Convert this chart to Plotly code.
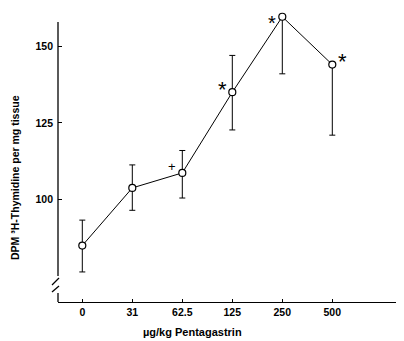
import plotly.graph_objects as go

doses = ["0", "31", "62.5", "125", "250", "500"]
dpm_mean = [85.0, 103.8, 108.7, 135.0, 159.6, 144.0]
err_plus = [8.3, 7.5, 7.3, 12.0, 0.0, 0.0]
err_minus = [8.6, 7.3, 8.2, 12.3, 18.6, 23.0]
y_ticks = [100, 125, 150]
marks = ["", "", "+", "*", "*", "*"]
mark_side = [0, 0, -1, -1, -1, 1]

FONT = "Liberation Sans"
# the page body has an 8px default margin; shift the figure to compensate
OFF = 8
W, H = 404 - OFF, 341 - OFF
L, T, B = 58 - OFF, 9 - OFF, 39
PW, PH = W - L, H - T - B   # plot area spans page y 9..302
PX_PER_UNIT = 3.067
Y_BOTTOM = 66.6
Y_TOP = Y_BOTTOM + PH / PX_PER_UNIT

fig = go.Figure()
fig.add_trace(go.Scatter(
    x=doses, y=dpm_mean, mode="lines+markers",
    line=dict(color="black", width=1),
    marker=dict(symbol="circle", size=7, color="white",
                line=dict(color="black", width=1.2)),
    error_y=dict(type="data", symmetric=False, array=err_plus,
                 arrayminus=err_minus, color="black", thickness=1, width=3),
    cliponaxis=False, showlegend=False,
))

for i, (v, m, s) in enumerate(zip(dpm_mean, marks, mark_side)):
    if not m:
        continue
    big = m == "*"
    near_top = (Y_TOP - v) * PX_PER_UNIT < 12
    fig.add_annotation(
        x=i, y=v, text=m, showarrow=False,
        xshift=s * 10,
        yshift=(7 if near_top else (3 if big else 6)),
        yanchor=("top" if near_top else "middle"),
        font=dict(family=FONT, size=(20 if near_top else (22 if big else 13)),
                  color="black"),
    )

line_style = dict(color="black", width=1.3)
# broken y axis: top part ends 13px below the plot top (page y 22)
fig.add_shape(type="line", xref="paper", yref="paper",
              xsizemode="pixel", ysizemode="pixel", xanchor=0, yanchor=0,
              x0=0, x1=0, y0=26, y1=PH - 13, line=line_style)
fig.add_shape(type="line", xref="paper", yref="paper",
              xsizemode="pixel", ysizemode="pixel", xanchor=0, yanchor=0,
              x0=0, x1=0, y0=0, y1=9, line=line_style)
for a, b in [(17, 24), (10, 16)]:
    fig.add_shape(type="line", xref="paper", yref="paper",
                  xsizemode="pixel", ysizemode="pixel", xanchor=0, yanchor=0,
                  x0=-6, x1=1, y0=a, y1=b, line=line_style)

fig.add_annotation(xref="paper", yref="paper", x=(192 - 58) / PW, y=0,
                   yshift=-30, text="µg/kg Pentagastrin", showarrow=False,
                   font=dict(family=FONT, size=11, color="black", weight="bold"),
                   xanchor="center", yanchor="middle")
fig.add_annotation(xref="paper", yref="paper", x=0, xshift=-43,
                   y=(302 - 178) / PH, text="DPM ³H-Thymidine per mg tissue",
                   textangle=-90, showarrow=False,
                   font=dict(family=FONT, size=10.5, color="black", weight="bold"),
                   xanchor="center", yanchor="middle")

tick_font = dict(family=FONT, size=10.5, color="black", weight="bold")
fig.update_layout(
    width=W, height=H,
    margin=dict(l=L, r=0, t=T, b=B, autoexpand=False),
    paper_bgcolor="white", plot_bgcolor="white",
    font=dict(family=FONT, size=11, color="black"),
    xaxis=dict(type="category", range=[-0.486, 6.434], showgrid=False,
               zeroline=False, showline=True, linecolor="black", linewidth=1.3,
               ticks="inside", ticklen=3, tickcolor="black",
               tickfont=tick_font),
    yaxis=dict(range=[Y_BOTTOM, Y_TOP], tickvals=y_ticks, showgrid=False,
               zeroline=False, showline=False, ticks="inside", ticklen=4,
               tickcolor="black", tickfont=tick_font, ticklabelstandoff=4),
)

fig.write_html("out.html")
